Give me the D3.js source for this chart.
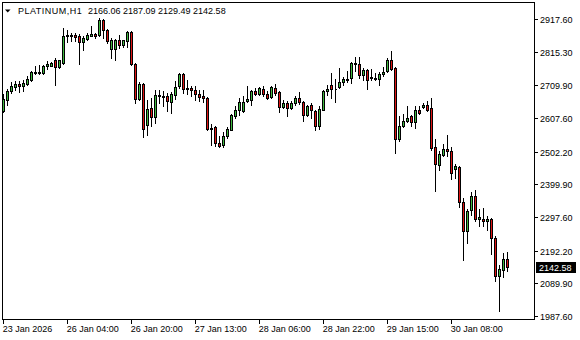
<!DOCTYPE html>
<meta charset="utf-8">
<style>
    body { margin: 0; background: #fff; }
    .container { width: 580px; height: 340px; }
    text { font-family: "Liberation Sans", Arial, sans-serif; font-size: 9px; }
</style>
<body>
<div class="container"></div>
<script src="https://cdn.jsdelivr.net/npm/d3@7"></script>
<script>

// PLATINUM H1 candles
const symbol = 'PLATINUM,H1';

const opens = [2628.7,2663.1,2691.2,2704.8,2715.2,2709.0,2715.2,2725.6,2750.6,2748.6,
    2748.6,2769.4,2771.5,2790.2,2767.3,2779.8,2863.2,2864.3,2868.4,2863.2,
    2844.5,2854.9,2865.3,2871.6,2868.4,2915.3,2882.0,2823.6,2823.6,2852.8,
    2835.1,2847.6,2875.7,2776.7,2667.3,2715.2,2587.0,2639.1,2611.0,2680.8,
    2677.7,2677.7,2656.8,2680.8,2706.9,2746.5,2697.0,2701.7,2696.5,2682.9,
    2675.6,2670.4,2576.6,2579.7,2529.7,2524.5,2550.5,2571.4,2615.2,2633.9,
    2628.7,2660.0,2665.2,2693.3,2682.9,2698.5,2684.0,2673.5,2701.7,2688.1,
    2641.2,2654.8,2639.1,2654.8,2670.4,2657.9,2616.2,2649.5,2630.8,2581.8,
    2633.9,2691.2,2711.0,2699.6,2704.8,2719.4,2730.9,2732.9,2777.7,2777.7,
    2743.4,2759.0,2732.9,2732.9,2729.8,2744.4,2753.8,2790.3,2764.2,2542.2,
    2583.9,2597.4,2613.1,2595.4,2633.9,2641.2,2649.5,2639.1,2517.2,2461.9,
    2491.1,2510.9,2505.7,2448.4,2454.6,2345.2,2253.5,2321.2,2365.0,2290.0,
    2290.0,2284.7,2292.0,2232.6,2112.8,2133.6,2166.06];

const highs = [2682.9,2698.5,2719.4,2722.5,2722.5,2725.6,2738.1,2753.8,2771.5,2774.6,
    2774.6,2785.0,2781.9,2795.5,2790.2,2889.3,2884.1,2873.6,2873.6,2871.6,
    2863.2,2873.6,2896.6,2873.6,2920.5,2917.0,2886.1,2858.0,2854.9,2868.4,
    2852.8,2878.9,2878.9,2779.8,2719.4,2717.3,2665.2,2670.4,2696.4,2696.4,
    2691.2,2686.0,2688.1,2722.5,2748.6,2748.6,2725.6,2709.0,2706.9,2696.5,
    2696.5,2673.5,2590.1,2583.9,2552.6,2563.0,2579.7,2621.4,2646.4,2670.4,
    2675.6,2709.0,2696.5,2701.7,2703.7,2706.9,2691.2,2706.9,2715.2,2691.2,
    2665.2,2660.0,2660.0,2677.7,2689.2,2660.0,2649.5,2654.8,2633.9,2644.3,
    2696.5,2712.1,2748.6,2729.8,2764.2,2736.1,2753.8,2781.9,2798.6,2798.6,
    2764.2,2761.1,2761.1,2748.6,2750.7,2767.3,2795.5,2818.4,2767.3,2615.2,
    2621.4,2646.4,2618.3,2646.4,2644.3,2654.8,2660.0,2670.4,2543.2,2503.6,
    2527.6,2555.7,2517.2,2465.1,2456.7,2357.7,2323.3,2375.4,2383.8,2323.3,
    2326.4,2300.4,2295.2,2237.8,2149.2,2185.7,2187.09];

const lows = [2626.0,2649.5,2686.0,2696.4,2688.1,2691.2,2712.1,2722.5,2746.5,2745.4,
    2745.4,2761.1,2769.4,2712.1,2764.2,2777.7,2844.5,2847.6,2847.6,2776.7,
    2819.4,2852.8,2863.2,2858.0,2865.3,2858.0,2842.4,2795.5,2790.2,2826.7,
    2829.9,2829.9,2774.6,2654.8,2665.2,2548.4,2555.7,2581.8,2592.2,2654.8,
    2644.3,2628.7,2623.5,2667.3,2701.7,2686.0,2684.0,2677.7,2663.1,2660.0,
    2656.8,2571.4,2524.5,2521.3,2517.2,2517.2,2545.3,2569.3,2607.9,2618.3,
    2625.6,2656.8,2649.5,2678.7,2680.8,2675.6,2667.3,2670.4,2680.8,2625.6,
    2639.1,2613.1,2636.0,2649.5,2652.7,2597.4,2613.1,2607.9,2571.4,2573.5,
    2631.8,2680.8,2670.4,2656.8,2701.7,2710.0,2719.4,2717.3,2753.8,2732.9,
    2725.6,2698.5,2727.7,2727.7,2710.0,2740.2,2750.7,2759.0,2498.4,2534.9,
    2579.7,2594.3,2581.8,2576.6,2621.4,2639.1,2628.7,2508.8,2378.6,2446.3,
    2488.0,2490.1,2417.1,2420.3,2329.6,2162.8,2217.0,2302.5,2284.7,2269.1,
    2269.1,2258.7,2182.6,2097.1,2003.3,2110.7,2129.49];

const closes = [2667.3,2693.3,2709.0,2715.2,2709.0,2717.3,2729.8,2750.6,2748.6,2750.6,
    2771.5,2777.7,2779.8,2767.3,2788.2,2865.3,2867.4,2868.4,2861.1,2844.5,
    2858.0,2868.4,2871.6,2863.2,2915.3,2882.0,2847.6,2850.7,2852.8,2835.1,
    2850.7,2875.7,2776.7,2667.3,2715.2,2574.5,2636.0,2611.0,2680.8,2677.7,
    2673.5,2660.0,2682.9,2704.8,2746.5,2698.5,2701.7,2694.4,2682.9,2673.5,
    2669.4,2573.5,2574.5,2529.7,2521.3,2550.5,2573.5,2618.3,2633.9,2657.9,
    2657.9,2667.3,2693.3,2682.9,2701.7,2682.9,2670.4,2704.8,2686.0,2641.2,
    2654.8,2639.1,2654.8,2670.4,2656.8,2616.2,2644.3,2631.8,2581.8,2637.0,
    2693.3,2698.5,2699.6,2697.5,2720.4,2730.9,2727.7,2779.8,2779.8,2741.3,
    2759.0,2727.7,2736.1,2729.8,2746.5,2752.7,2790.3,2761.1,2542.2,2583.9,
    2597.4,2607.9,2594.3,2633.9,2623.5,2649.5,2631.8,2513.0,2464.0,2495.3,
    2510.9,2503.6,2435.9,2456.7,2345.2,2253.5,2317.1,2365.0,2290.0,2298.3,
    2285.8,2293.1,2231.6,2112.8,2135.7,2168.0,2142.58];

// price axis labels and time axis labels (one every 16 bars)
const priceTicks = [2917.60, 2815.30, 2709.90, 2607.60, 2502.20, 2399.90, 2297.60, 2192.20, 2089.90, 1987.60];
const timeLabels = ['23 Jan 2026', '26 Jan 04:00', '26 Jan 20:00', '27 Jan 13:00',
    '28 Jan 06:00', '28 Jan 22:00', '29 Jan 15:00', '30 Jan 08:00'];
const labelEvery = 16;

const width = 580;
const height = 340;
const frame = { left: 2.5, top: 2.5, right: 534.5, bottom: 319.5 };

const bars = opens.map((o, i) => ({ i, o, h: highs[i], l: lows[i], c: closes[i] }));

const svg = d3.select('.container')
    .append('svg')
    .attr('width', width)
    .attr('height', height);

const x = d3.scaleLinear().domain([0, 1]).range([3.5, 7.5]);
const y = d3.scaleLinear().domain([1987.6, 2917.6]).range([316.7, 19.3]);
const snap = v => Math.round(v - 0.5) + 0.5;

// frame
svg.append('rect')
    .attr('x', frame.left).attr('y', frame.top)
    .attr('width', frame.right - frame.left)
    .attr('height', frame.bottom - frame.top)
    .attr('fill', 'none').attr('stroke', '#000')
    .attr('shape-rendering', 'crispEdges');

const g = svg.append('g').attr('shape-rendering', 'crispEdges');

// wicks
g.selectAll('line.wick')
    .data(bars)
    .enter()
    .append('line')
    .attr('class', 'wick')
    .attr('x1', d => x(d.i)).attr('x2', d => x(d.i))
    .attr('y1', d => snap(y(d.h)) - 0.5)
    .attr('y2', d => snap(y(d.l)) + 0.5)
    .attr('stroke', '#000');

// bodies
g.selectAll('path.body')
    .data(bars)
    .enter()
    .append('path')
    .attr('class', 'body')
    .attr('d', d => {
        const y1 = snap(y(Math.max(d.o, d.c)));
        const y2 = snap(y(Math.min(d.o, d.c)));
        const x0 = x(d.i) - 1;
        return `M${x0},${y1}H${x0 + 2}V${y2}H${x0}Z`;
    })
    .attr('fill', d => d.c >= d.o ? '#3fb83f' : '#dd1414')
    .attr('stroke', '#000');

// price axis
const priceAxis = svg.append('g');
priceTicks.forEach(v => {
    const yy = snap(y(v));
    priceAxis.append('line')
        .attr('x1', frame.right).attr('x2', frame.right + 3.5)
        .attr('y1', yy).attr('y2', yy)
        .attr('stroke', '#000').attr('shape-rendering', 'crispEdges');
    priceAxis.append('text')
        .attr('x', 540).attr('y', yy + 3)
        .text(v.toFixed(2));
});

// time axis
const timeAxis = svg.append('g');
timeLabels.forEach((t, k) => {
    const xx = x(k * labelEvery);
    timeAxis.append('line')
        .attr('x1', xx).attr('x2', xx)
        .attr('y1', frame.bottom).attr('y2', frame.bottom + 4)
        .attr('stroke', '#000').attr('shape-rendering', 'crispEdges');
    timeAxis.append('text')
        .attr('x', xx - 0.8).attr('y', 332)
        .text(t);
});

// current price marker
const last = bars[bars.length - 1];
const ly = snap(y(last.c));
svg.append('rect')
    .attr('x', 536).attr('y', ly - 5.5)
    .attr('width', 40).attr('height', 11)
    .attr('fill', '#000');
svg.append('text')
    .attr('x', 539).attr('y', ly + 3)
    .attr('fill', '#fff')
    .text(last.c.toFixed(2));

// header
svg.append('path')
    .attr('d', 'M5,9.5H10.5L7.75,12.5Z')
    .attr('fill', '#000');
svg.append('text')
    .attr('x', 18).attr('y', 14)
    .style('letter-spacing', '0.5px')
    .text(symbol);
svg.append('text')
    .attr('x', 88).attr('y', 14)
    .text([last.o, last.h, last.l, last.c].map(v => v.toFixed(2)).join(' '));

</script>
</body>
